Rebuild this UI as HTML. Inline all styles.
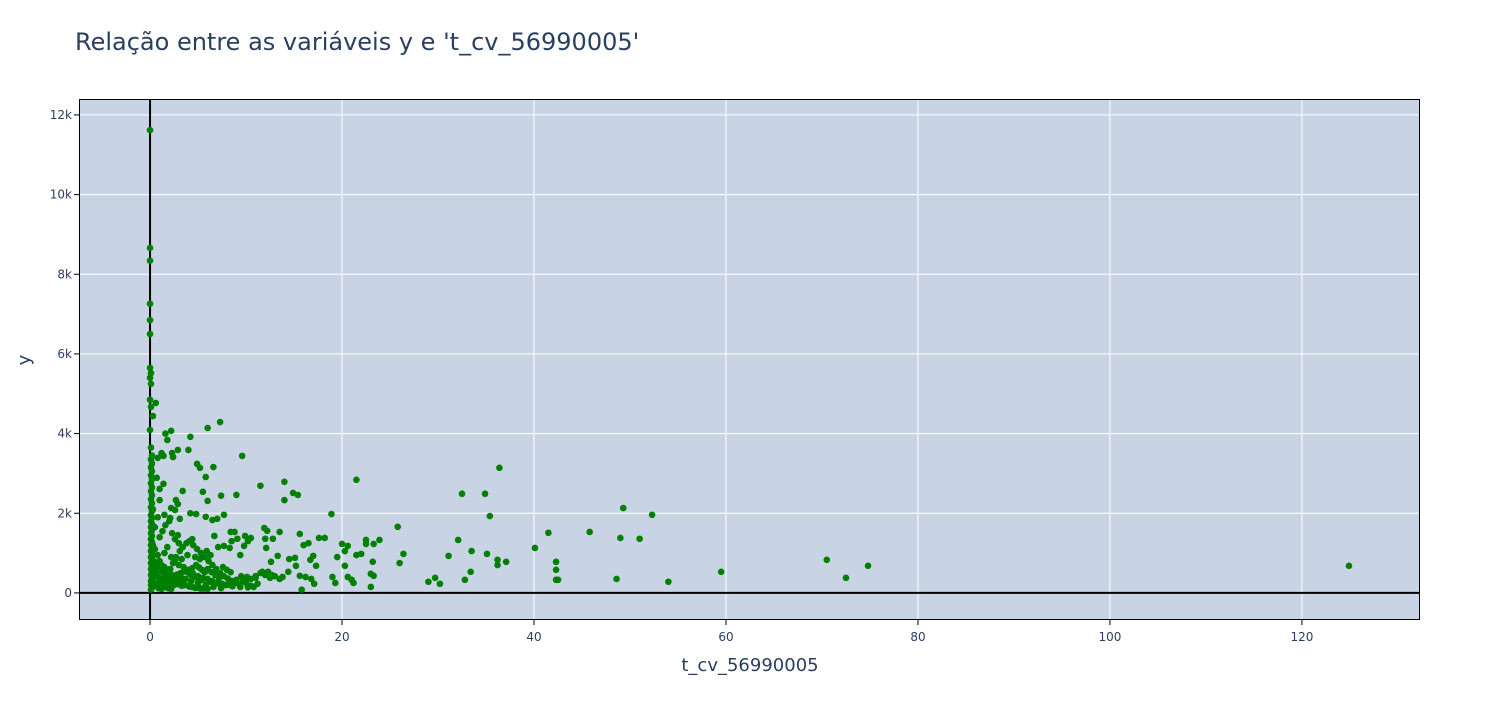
<!DOCTYPE html>
<html><head><meta charset="utf-8"><style>
body{margin:0;background:#fff;font-family:"DejaVu Sans",sans-serif}
svg text{font-family:"DejaVu Sans",sans-serif}
</style></head><body>
<svg id="chart" width="1500" height="700" xmlns="http://www.w3.org/2000/svg">
<text x="75" y="50" font-size="24" fill="#2a3f5f">Relação entre as variáveis y e 't_cv_56990005'</text>
<rect x="79" y="99" width="1341" height="521" fill="#c8d4e3"/>
<g id="grid"></g><g id="pts"></g>
<rect x="79.5" y="99.5" width="1340" height="520" fill="none" stroke="#000" stroke-width="1"/>
<text x="750" y="671" font-size="18" fill="#2a3f5f" text-anchor="middle">t_cv_56990005</text>
<text x="0" y="0" font-size="18" fill="#2a3f5f" text-anchor="middle" transform="translate(30,360) rotate(-90)">y</text>
</svg>
<script>
const xTicks=[0,20,40,60,80,100,120];
const yTicks=[0,2000,4000,6000,8000,10000,12000];
const yTickLabels=["0","2k","4k","6k","8k","10k","12k"];
const xs=[0,0,0,0,0,0,0,0.1,0,0.1,0,0.1,0.3,0.6,0,1.6,2.2,1.8,4.2,6,7.3,9.6,11.5,21.5,14,14,14.9,15.4,18.9,32.5,34.9,36.4,35.4,25.8,26.4,26,29,29.7,30.2,31.1,32.1,32.8,33.4,33.5,35.1,36.2,36.2,37.1,40.1,41.5,42.3,42.3,42.3,42.5,45.8,48.6,49,49.3,51,52.3,54,59.5,70.5,72.5,74.8,124.9,
17.6,18.2,19.5,20,20.6,20.3,21.5,22,22.5,22.5,23.3,23.9,23.2,23,23.3,23,19,19.3,20.6,21,21.2,20.3,16.7,17,17.3,16.5,16,15.6,14.5,15.1,15.2,15.6,15.8,16.2,16.8,17.1,13.5,13.3,12.6,12.8,12.2,12.1,11.9,12,11.7,12.3,12.7,13.8,14.4,11,11.2,10.8,10.5,10.2,9.8,9.9,9.1,8.5,8.8,8.4,9,7.4,7,6.5,6.7,7.7,7.7,7.1,8.3,9.4,
6,5.8,5.2,4.9,6.6,4,2.9,2.3,2.4,1.4,1.2,3.4,2.7,2.9,2.2,2.6,1,1.4,4.2,4.8,5.5,5.8,3.1,2.1,1.5,1,0.7,0.8,
0.3,0.5,0.8,1,1.2,1.5,1.8,2,2.3,2.5,2.8,3,3.3,3.6,4,4.4,4.8,5.2,5.6,6,0.4,0.6,0.9,1.1,1.3,1.6,1.9,2.2,0.7,1.4,1.7,2.1,2.4,2.7,3.1,3.4,3.8,4.1,4.5,4.9,
5.3,5.7,6.1,6.5,6.9,7.3,7.7,8.1,8.5,8.9,9.3,9.7,10.1,10.5,11,11.5,12,12.5,13,13.5,1,1.3,1.6,2,2.3,2.6,3,0.5,0.8,0.3,1.5,1.8,2.2,2.6,3,3.5,4,4.5,5,5.5,
6,6.5,7,7.5,8,8.5,9,9.5,10,10.5,0.2,0.4,0.6,0.9,1.2,1.5,1.8,2.1,2.4,2.7,3,3.3,3.6,3.9,4.2,4.5,4.8,5.1,5.4,5.7,6,6.4,6.8,7.2,7.6,8,8.4,0.2,0.3,0.6,0.9,1.2,1.6,2,2.5,3.2,3.7,4.3,5,5.8,6.6,7.4,4.7,5.2,5.9,6.3,3.3,3.9,2.9,4.4,
0.1,0.2,0.1,0.2,0.1,0.2,0.1,0.2,0.1,0.2,0.1,0.2,0.1,0.2,0.1,0.2,0.1,0.2,0.1,0.2,0.1,0.2,0.1,0.2,0.1,0.2,0.1,0.2,0.1,0.2,0.1,0.2,0.1,0.2,0.1,0.2,0.1,0.2,0.1,0.2,0.1,0.2,0.1,
0.5,0.8,1.1,1.4,1.7,2.0,2.4,2.8,3.2,3.6,4.0,4.4,4.9,5.4,6.2,7.0,7.8,8.6,9.4,10.2,0.5,0.9,1.3,1.8,2.3,2.9,3.5,4.1,4.7,5.3];
const ys=[11620,8660,8340,7260,6850,6500,5650,5520,5400,5250,4850,4670,4440,4770,4090,4000,4070,3840,3920,4140,4290,3440,2690,2840,2790,2330,2510,2460,1980,2490,2490,3140,1930,1660,980,750,280,380,230,930,1330,330,530,1050,980,830,700,780,1130,1510,780,580,330,330,1530,350,1380,2130,1360,1960,280,530,830,380,680,680,
1380,1380,900,1230,1180,1050,950,980,1330,1230,1230,1330,780,480,430,150,400,250,400,330,250,680,830,930,680,1250,1200,1480,850,880,680,430,80,400,350,230,1530,930,780,1360,1560,1130,1630,1360,530,530,450,400,530,380,230,150,1380,1300,1180,1430,1360,1300,1530,1530,2460,2440,1860,1830,1430,1960,1180,1150,1130,950,
2310,2910,3140,3240,3160,3590,3590,3510,3410,3440,3510,2560,2330,2230,2130,2080,2610,2740,2000,1980,2540,1910,1860,1880,1960,2330,2890,3390,
1200,1100,950,800,700,650,550,500,450,400,350,300,250,200,180,150,130,120,110,100,600,500,400,300,200,150,120,100,250,350,450,600,750,900,1050,1150,1250,1300,1200,1100,
1000,900,800,700,600,500,420,360,300,250,220,300,400,350,420,500,450,380,420,350,1400,1550,1700,1800,1500,1350,1250,1650,1900,2100,1000,1150,900,800,700,650,550,480,420,380,
350,300,260,230,200,180,330,420,250,180,900,800,700,650,550,480,420,380,320,280,220,180,600,520,460,400,700,640,580,520,600,520,450,380,650,580,520,300,150,200,120,100,300,250,200,400,350,300,250,200,150,120,900,850,1050,950,850,950,1450,1350,
80,150,200,250,300,380,450,520,600,680,750,830,900,980,1050,1130,1200,1280,1350,1430,1500,1580,1650,1730,1800,1880,1950,2050,2150,2250,2350,2450,2550,2650,2750,2850,2950,3050,3150,3250,3350,3450,3650,
180,220,260,300,340,380,420,460,500,540,580,620,380,330,280,240,200,170,150,140,420,380,340,300,260,220,190,160,130,110];
const X0=79,X1=1420,XMIN=-7.4,XMAX=132.3,Y0=620,Y1=99,YMIN=-680,YMAX=12400;
const sx=v=>X0+(v-XMIN)/(XMAX-XMIN)*(X1-X0);
const sy=v=>Y0-(v-YMIN)/(YMAX-YMIN)*(Y0-Y1);
const NS="http://www.w3.org/2000/svg";
const grid=document.getElementById('grid'),svg=document.getElementById('chart'),pts=document.getElementById('pts');
function mk(tag,attrs,parent){const e=document.createElementNS(NS,tag);for(const k in attrs)e.setAttribute(k,attrs[k]);parent.appendChild(e);return e;}
xTicks.forEach((t,i)=>{
  const x=sx(t);
  if(t!==0){const l=mk('line',{x1:x,x2:x,y1:Y1,y2:Y0,stroke:'#fff','stroke-width':1},grid);
  
  }
  const tx=mk('text',{x:x,y:641,'font-size':12,fill:'#2a3f5f','text-anchor':'middle'},svg);
  tx.textContent=String(t);
  
  
});
yTicks.forEach((t,i)=>{
  const y=sy(t);
  if(t!==0){const l=mk('line',{x1:X0,x2:X1,y1:y,y2:y,stroke:'#fff','stroke-width':1},grid);
  
  }
  const tx=mk('text',{x:72,y:y+4,'font-size':12,fill:'#2a3f5f','text-anchor':'end'},svg);
  tx.textContent=yTickLabels[i];
  
  
  const tk=mk('line',{x1:74,x2:79,y1:y,y2:y,stroke:'#000'},svg);
  
  
});
xTicks.forEach(t=>{const tk=mk('line',{x1:sx(t),x2:sx(t),y1:620,y2:625,stroke:'#000'},svg);

});
const zx=mk('line',{x1:sx(0),x2:sx(0),y1:Y1,y2:Y0,stroke:'#000','stroke-width':2},grid);


const zy=mk('line',{x1:X0,x2:X1,y1:sy(0),y2:sy(0),stroke:'#000','stroke-width':2},grid);


for(let i=0;i<Math.min(xs.length,ys.length);i++){
  const c=mk('circle',{cx:sx(xs[i]),cy:sy(ys[i]),r:3.3,fill:'#008000'},pts);
  
  
}
</script>
</body></html>
